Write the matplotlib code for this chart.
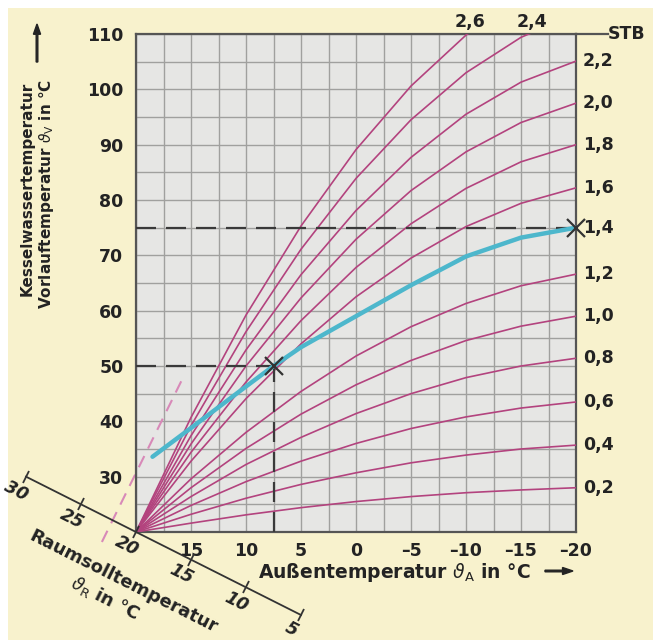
import numpy as np
import matplotlib.pyplot as plt
from matplotlib.markers import MarkerStyle
from matplotlib.transforms import Affine2D
from matplotlib.patches import FancyArrow, Rectangle

plt.rcParams['font.family'] = ['DejaVu Sans']
plt.rcParams['mathtext.fontset'] = 'dejavusans'

# outdoor temperature points where the curves were read
t_out = [20, 15, 10, 5, 0, -5, -10, -15, -20]

# heating curves (flow temperature)
curves = {
    '0,2': [20, 21.6, 23.1, 24.4, 25.5, 26.4, 27.1, 27.6, 28.0],
    '0,4': [20, 23.2, 26.1, 28.6, 30.7, 32.5, 33.9, 35.0, 35.7],
    '0,6': [20, 24.8, 29.1, 32.8, 36.0, 38.7, 40.8, 42.4, 43.5],
    '0,8': [20, 26.4, 32.2, 37.1, 41.4, 45.0, 47.9, 50.0, 51.4],
    '1,0': [20, 28.0, 35.1, 41.3, 46.6, 51.0, 54.6, 57.2, 59.0],
    '1,2': [20, 29.6, 38.0, 45.4, 51.8, 57.1, 61.3, 64.5, 66.6],
    '1,6': [20, 32.8, 44.1, 54.0, 62.5, 69.5, 75.2, 79.4, 82.2],
    '1,8': [20, 34.4, 47.1, 58.2, 67.8, 75.7, 82.1, 86.9, 90.0],
    '2,0': [20, 35.9, 50.0, 62.3, 72.9, 81.7, 88.7, 94.0, 97.5],
    '2,2': [20, 37.4, 52.9, 66.5, 78.1, 87.7, 95.5, 101.3, 105.1],
    '2,4': [20, 39.2, 56.2, 71.1, 83.9, 94.5, 103.0, 109.4, 113.6],
    '2,6': [20, 40.7, 59.2, 75.3, 89.1, 100.6, 109.8, 116.6, 121.2],
}

# the highlighted (blue) curve
blue_t = [18.5, 15, 10, 7.5, 5, 0, -5, -10, -15, -20]
blue_v = [33.6, 38.8, 46.3, 50.0, 53.4, 59.0, 64.6, 69.8, 73.2, 75.0]

# labels on the right edge and their heights
right_labels = ['0,2', '0,4', '0,6', '0,8', '1,0', '1,2', '1,4', '1,6', '1,8', '2,0', '2,2']
right_vals = [28.0, 35.7, 43.5, 51.4, 59.0, 66.6, 75.0, 82.2, 90.0, 97.5, 105.1]

# labels on top where steep curves leave the chart
top_labels = ['2,6', '2,4']
top_t = [-9.6, -15.2]

# example point and design point
pt_t = [7.5, -20]
pt_v = [50, 75]

# pink dashed helper line
pink_t = [23.1, 15.7]
pink_v = [18.2, 48.0]

room_ticks = [30, 25, 20, 15, 10, 5]
x_ticks = [15, 10, 5, 0, -5, -10, -15, -20]
y_ticks = [30, 40, 50, 60, 70, 80, 90, 100, 110]

TXT = '#232323'
FS = 12.5

W, H = 653, 640
fig = plt.figure(figsize=(W / 100, H / 100), dpi=100, facecolor='white')
fig.patches.append(Rectangle((8 / W, 0), 1, 1 - 8 / H, transform=fig.transFigure,
                             facecolor='#f8f2cd', edgecolor='none', zorder=-10))

def fx(x):
    return x / W

def fy(y):
    return 1 - y / H

ax = fig.add_axes([fx(136), fy(532), (576 - 136) / W, (532 - 34) / H])
ax.set_facecolor('#e6e6e4')
ax.set_xlim(20, -20)
ax.set_ylim(20, 110)

ax.set_xticks(x_ticks)
ax.set_xticklabels([str(v).replace('-', '\u2013') for v in x_ticks])
ax.set_xticks(np.arange(-20, 20.1, 2.5), minor=True)
ax.set_yticks(y_ticks)
ax.set_yticks(np.arange(20, 110.1, 5), minor=True)
ax.grid(True, which='both', color='#a0a09e', lw=1.0)
ax.set_axisbelow(True)
ax.tick_params(which='both', length=0)
ax.tick_params(axis='x', pad=7, labelsize=FS, labelcolor=TXT)
ax.tick_params(axis='y', pad=9, labelsize=FS, labelcolor=TXT)
for lab in ax.get_xticklabels() + ax.get_yticklabels():
    lab.set_fontweight('bold')
for s in ax.spines.values():
    s.set_color('#555555')
    s.set_linewidth(1.6)

# heating curves
for name, vals in curves.items():
    ax.plot(t_out, vals, color='#b3437e', lw=1.2, zorder=3)

# dashed guide lines
dash = (0, (9, 4.5))
ax.plot([20, -20], [75, 75], color='#3a3a3a', lw=1.6, ls=dash, zorder=4)
ax.plot([20, pt_t[0]], [50, 50], color='#3a3a3a', lw=1.6, ls=dash, zorder=4)
ax.plot([pt_t[0], pt_t[0]], [20, 50], color='#3a3a3a', lw=1.6, ls=dash, zorder=4)

# blue curve
ax.plot(blue_t, blue_v, color='#4db7cc', lw=3.2, solid_capstyle='round', zorder=5)
ax.plot(pt_t, pt_v, ls='none', marker='x', ms=13, mew=1.6, color='#333333',
        clip_on=False, zorder=6)

# pink dashed line
ax.plot(pink_t, pink_v, color='#d889b8', lw=1.5, ls=(0, (6, 4)), clip_on=False, zorder=2)

# right labels
for lab, v in zip(right_labels, right_vals):
    ax.annotate(lab, xy=(-20, v), xytext=(5, 0), textcoords='offset points',
                ha='left', va='center', fontsize=FS, fontweight='bold', color=TXT,
                annotation_clip=False)

# top labels
for lab, t in zip(top_labels, top_t):
    ax.annotate(lab, xy=(t, 110), xytext=(6, 9), textcoords='offset points',
                ha='center', va='center', fontsize=FS, fontweight='bold', color=TXT,
                annotation_clip=False)

# extended top line with STB
ax.plot([1, 1 + 32 / 440], [1, 1], transform=ax.transAxes, color='#555555', lw=1.6,
        clip_on=False)
ax.text(1 + 32 / 440, 1, 'STB', transform=ax.transAxes, ha='left', va='center',
        fontsize=FS, fontweight='bold', color=TXT)

# room temperature axis along V = T
ax.plot([room_ticks[0], room_ticks[-1]], [room_ticks[0], room_ticks[-1]], color='#333333',
        lw=1.3, clip_on=False, zorder=4)
p0 = ax.transData.transform((20, 20))
p1 = ax.transData.transform((5, 5))
ang = np.degrees(np.arctan2(p1[1] - p0[1], p1[0] - p0[0]))
perp = np.array([np.sin(np.radians(ang)), -np.cos(np.radians(ang))])
along = np.array([np.cos(np.radians(ang)), np.sin(np.radians(ang))])
tick_marker = MarkerStyle('|', transform=Affine2D().rotate_deg(ang))
ax.plot(room_ticks, room_ticks, ls='none', marker=tick_marker, ms=9, mew=1.3,
        color='#333333', clip_on=False, zorder=4)
for r in room_ticks:
    off = (perp * 17 - along * 2) * 0.72
    ax.annotate(str(r), xy=(r, r), xytext=(off[0], off[1]), textcoords='offset points',
                ha='center', va='center', rotation=ang, rotation_mode='anchor',
                fontsize=FS, fontweight='bold', style='italic', color=TXT,
                annotation_clip=False)

off = (perp * 50 + along * 11) * 0.72
ax.annotate('Raumsolltemperatur', xy=(20, 20), xytext=(off[0], off[1]),
            textcoords='offset points', ha='center', va='center', rotation=ang,
            rotation_mode='anchor', fontsize=13, fontweight='bold', color=TXT,
            annotation_clip=False)
off = (perp * 73 + along * 2) * 0.72
ax.annotate(r'$\vartheta_\mathrm{R}$ in °C', xy=(20, 20), xytext=(off[0], off[1]),
            textcoords='offset points', ha='center', va='center', rotation=ang,
            rotation_mode='anchor', fontsize=13, fontweight='bold', color=TXT,
            annotation_clip=False)

# x label
fig.text(fx(258), fy(573), r'Außentemperatur $\vartheta_\mathrm{A}$ in °C', ha='left',
         va='center', fontsize=13.5, fontweight='bold', color=TXT)
fig.patches.append(FancyArrow(
    fx(545), fy(571), fx(28), 0, width=0.0025, head_width=0.011, head_length=0.016,
    length_includes_head=True, transform=fig.transFigure, color=TXT))

# y label
fig.text(fx(27), fy(189), 'Kesselwassertemperatur', rotation=90, ha='center', va='center',
         fontsize=11, fontweight='bold', color=TXT)
fig.text(fx(47), fy(194), r'Vorlauftemperatur $\vartheta_\mathrm{V}$ in °C', rotation=90,
         ha='center', va='center', fontsize=11, fontweight='bold', color=TXT)
fig.patches.append(FancyArrow(
    fx(37), fy(62), 0, 38 / H, width=0.0025, head_width=0.011, head_length=0.016,
    length_includes_head=True, transform=fig.transFigure, color=TXT))

fig.savefig('out.png', dpi=100, facecolor=fig.get_facecolor())
